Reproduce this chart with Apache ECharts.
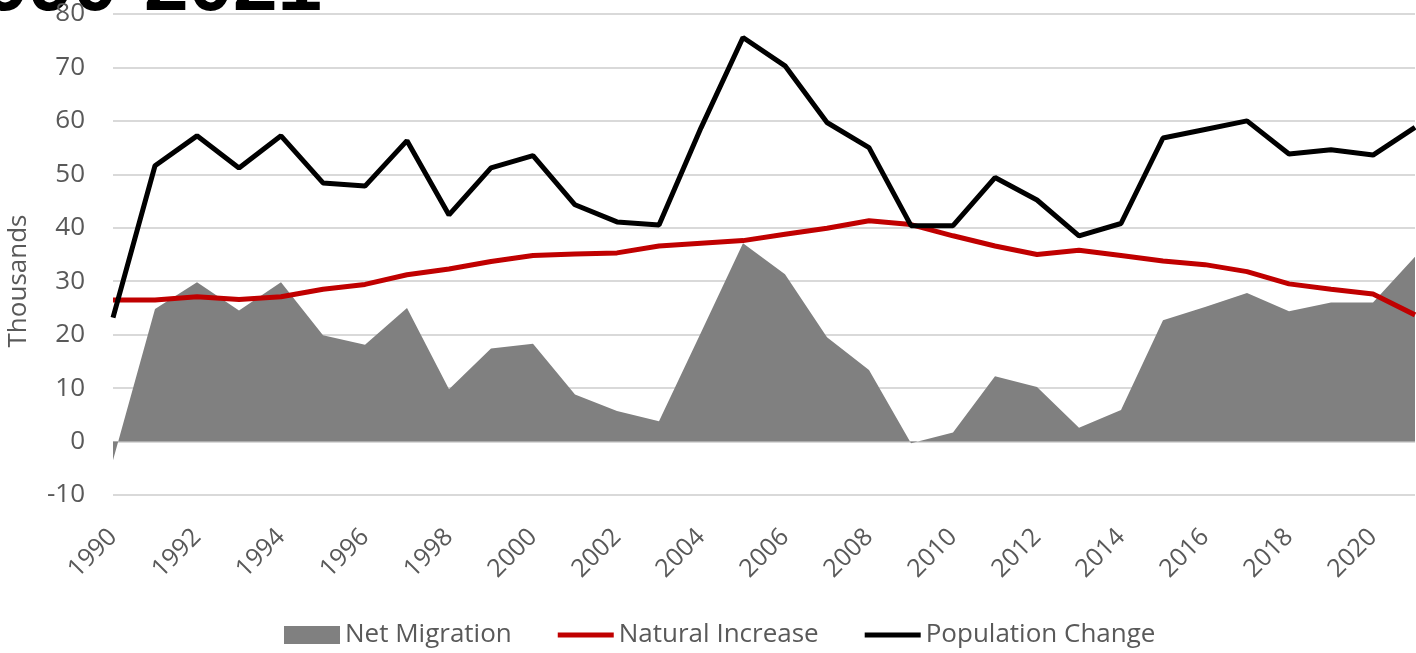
<!DOCTYPE html>
<html>
<head>
<meta charset="utf-8">
<script src="https://cdn.jsdelivr.net/npm/echarts@6/dist/echarts.min.js"></script>
<style>
  html, body { margin: 0; padding: 0; background: #fff; }
  #view { width: 1416px; height: 653px; }
</style>
</head>
<body>
<div id="view"></div>
<script>
// years on the x axis
let years = [];
for (let y = 1990; y <= 2021; y++) years.push(String(y));

// thousands
let netMigration = [-3.5, 24.8, 29.8, 24.5, 29.8, 19.9, 18.1, 25.0, 9.8, 17.4,
  18.3, 8.8, 5.7, 3.8, 20.4, 37.1, 31.3, 19.5, 13.4, -0.3,
  1.7, 12.2, 10.2, 2.6, 5.9, 22.7, 25.2, 27.8, 24.4, 26.0, 26.0, 34.6];
let naturalIncrease = [26.5, 26.5, 27.1, 26.6, 27.1, 28.5, 29.4, 31.2, 32.3, 33.7,
  34.8, 35.1, 35.3, 36.6, 37.1, 37.6, 38.8, 39.9, 41.3, 40.6,
  38.5, 36.6, 35.0, 35.8, 34.8, 33.8, 33.1, 31.8, 29.5, 28.5, 27.6, 23.7];
let populationChange = [23.2, 51.6, 57.2, 51.2, 57.2, 48.4, 47.8, 56.3, 42.4, 51.2,
  53.5, 44.3, 41.1, 40.5, 58.7, 75.6, 70.3, 59.7, 55.0, 40.4,
  40.4, 49.4, 45.2, 38.5, 40.8, 56.8, 58.4, 60.0, 53.8, 54.6, 53.6, 58.8];

let font = "Open Sans";
let textColor = "#595959";

let myChart = echarts.init(document.getElementById("view"));

let option = {
  backgroundColor: "#ffffff",
  animation: false,
  textStyle: { fontFamily: font },
  graphic: [
    {
      // title, mostly cut off above the picture
      type: "text",
      x: 322,
      y: -52,
      z: 0,
      style: {
        text: "1990-2021",
        align: "right",
        fill: "#000",
        font: "900 80px 'Liberation Sans'",
      },
    },
    {
      type: "text",
      x: 19,
      y: 281,
      rotation: Math.PI / 2,
      style: {
        text: "Thousands",
        align: "center",
        verticalAlign: "middle",
        fill: textColor,
        font: "26px 'Open Sans'",
      },
    },
  ],
  legend: {
    bottom: 0,
    left: 279,
    itemWidth: 56,
    itemHeight: 18,
    itemGap: 46,
    textStyle: { color: textColor, fontSize: 26, fontFamily: font },
    data: [
      { name: "Net Migration", icon: "rect" },
      { name: "Natural Increase", icon: "path://M0,0L56,0L56,5L0,5Z" },
      { name: "Population Change", icon: "path://M0,0L56,0L56,5L0,5Z" },
    ],
  },
  grid: {
    left: 113,
    right: 1,
    top: 14,
    bottom: 158,
  },
  xAxis: {
    type: "category",
    boundaryGap: false,
    data: years,
    axisLine: { show: false },
    axisTick: { show: false },
    axisLabel: {
      interval: 1,
      rotate: 45,
      color: textColor,
      fontSize: 25,
      margin: 38,
    },
  },
  yAxis: {
    type: "value",
    min: -10,
    max: 80,
    interval: 10,
    axisLabel: { color: textColor, fontSize: 26, margin: 28 },
    splitLine: { lineStyle: { color: "#d9d9d9", width: 2 } },
  },
  series: [
    {
      name: "Net Migration",
      type: "line",
      data: netMigration,
      symbol: "none",
      lineStyle: { width: 0 },
      itemStyle: { color: "#808080" },
      areaStyle: { color: "#808080", opacity: 1 },
    },
    {
      name: "Natural Increase",
      type: "line",
      data: naturalIncrease,
      symbol: "none",
      lineStyle: { width: 5, color: "#c00000" },
      itemStyle: { color: "#c00000" },
    },
    {
      name: "Population Change",
      type: "line",
      data: populationChange,
      symbol: "none",
      lineStyle: { width: 5, color: "#000000" },
      itemStyle: { color: "#000000" },
    },
  ],
};
myChart.setOption(option);
</script>
</body>
</html>
